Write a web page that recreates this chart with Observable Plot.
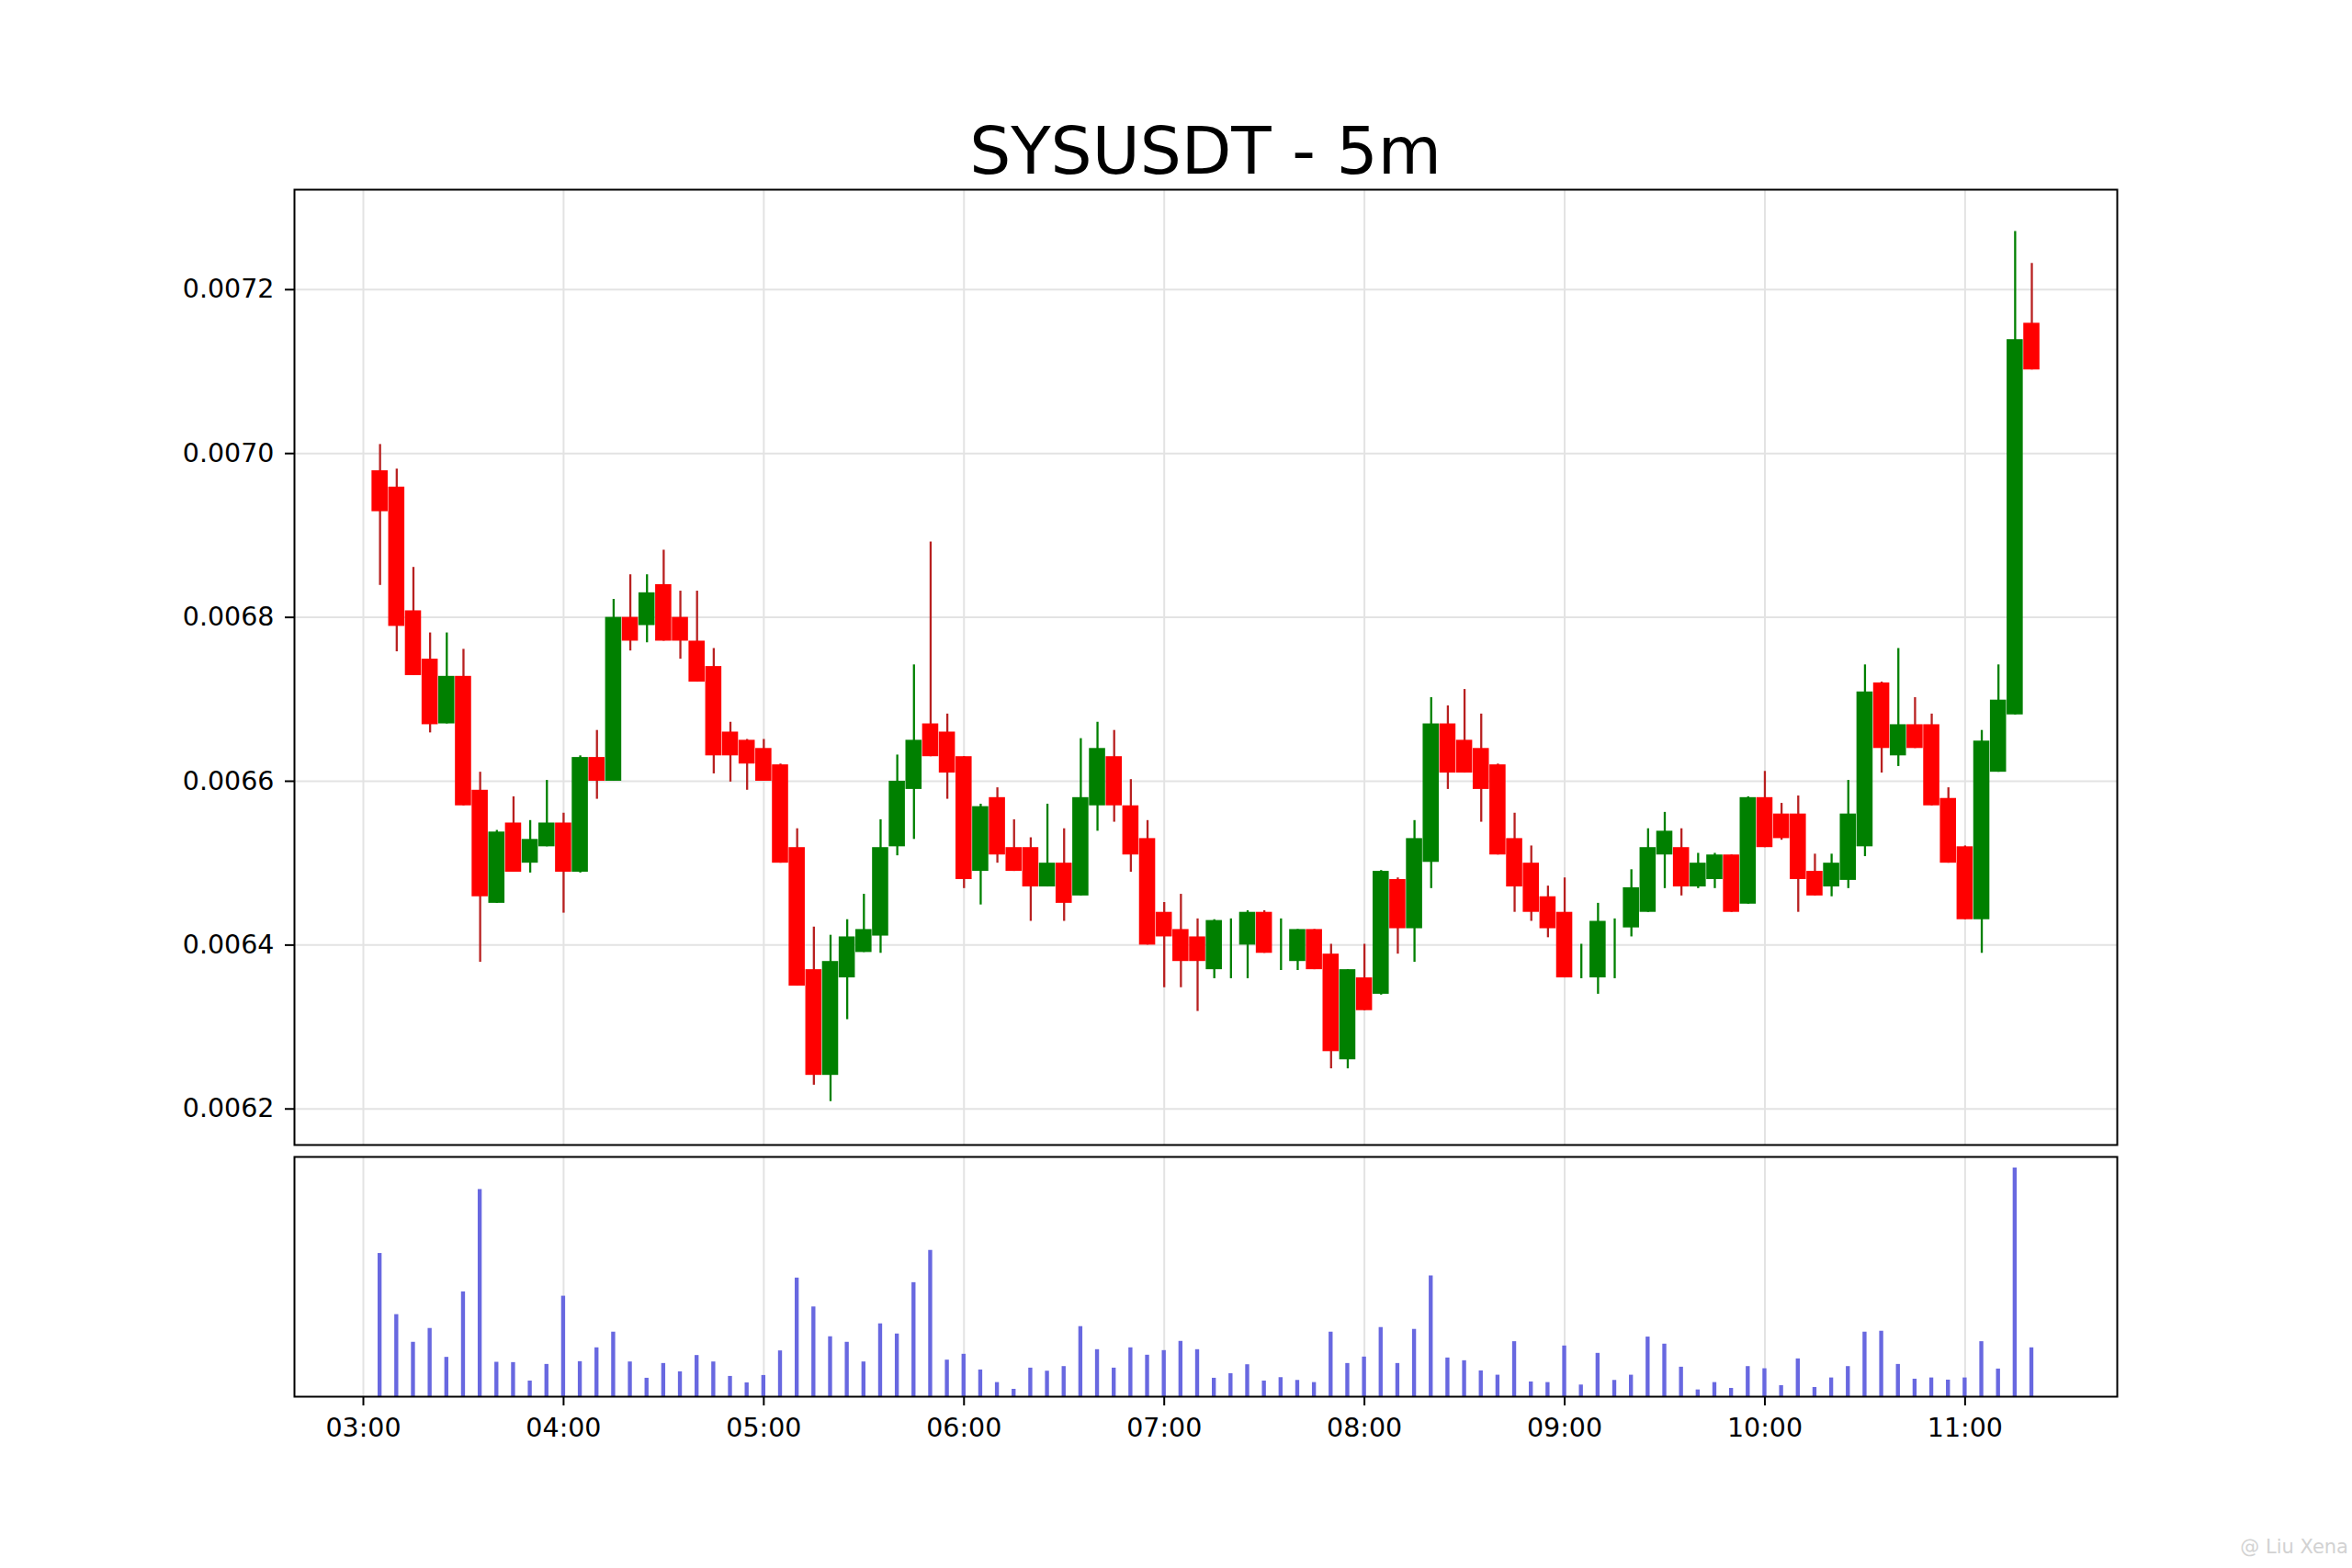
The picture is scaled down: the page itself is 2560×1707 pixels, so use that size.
<!DOCTYPE html>
<html>
<head>
<meta charset="utf-8">
<script src="https://cdn.jsdelivr.net/npm/d3@7"></script>
<script src="https://cdn.jsdelivr.net/npm/@observablehq/plot@0.6"></script>
<style>
html, body { margin: 0; padding: 0; background: #fff; }
#wrap { position: relative; width: 2560px; height: 1707px; background: #fff; overflow: hidden; font-family: "DejaVu Sans", sans-serif; }
#title { position: absolute; left: 512px; width: 1600px; top: 129px; text-align: center; font-size: 71px; line-height: 71px; color: #000; white-space: nowrap; }
#price { position: absolute; left: 0; top: 0; }
#volume { position: absolute; left: 0; top: 1250px; }
#wm { position: absolute; right: 4px; top: 1672px; font-size: 21px; color: #d2d2d2; white-space: nowrap; }
</style>
</head>
<body>
<div id="wrap">
  <div id="price"></div>
  <div id="volume"></div>
  <div id="title"></div>
  <div id="wm"></div>
</div>
<script>
const chartTitle = "SYSUSDT - 5m";
const watermark = "@ Liu Xena";

const times = [
  "03:05","03:10","03:15","03:20","03:25","03:30","03:35","03:40","03:45","03:50","03:55","04:00",
  "04:05","04:10","04:15","04:20","04:25","04:30","04:35","04:40","04:45","04:50","04:55","05:00",
  "05:05","05:10","05:15","05:20","05:25","05:30","05:35","05:40","05:45","05:50","05:55","06:00",
  "06:05","06:10","06:15","06:20","06:25","06:30","06:35","06:40","06:45","06:50","06:55","07:00",
  "07:05","07:10","07:15","07:20","07:25","07:30","07:35","07:40","07:45","07:50","07:55","08:00",
  "08:05","08:10","08:15","08:20","08:25","08:30","08:35","08:40","08:45","08:50","08:55","09:00",
  "09:05","09:10","09:15","09:20","09:25","09:30","09:35","09:40","09:45","09:50","09:55","10:00",
  "10:05","10:10","10:15","10:20","10:25","10:30","10:35","10:40","10:45","10:50","10:55","11:00",
  "11:05","11:10","11:15","11:20"
];

const open = [
  0.006979,0.006959,0.006808,0.006749,0.006670,0.006728,0.006589,0.006451,0.006549,0.006500,
  0.006520,0.006549,0.006489,0.006629,0.006600,0.006800,0.006790,0.006840,0.006800,0.006771,
  0.006740,0.006660,0.006650,0.006640,0.006620,0.006519,0.006370,0.006241,0.006360,0.006391,
  0.006411,0.006520,0.006590,0.006670,0.006660,0.006630,0.006490,0.006580,0.006519,0.006519,
  0.006471,0.006500,0.006460,0.006570,0.006630,0.006570,0.006530,0.006440,0.006419,0.006410,
  0.006370,0.006400,0.006400,0.006440,0.006400,0.006380,0.006419,0.006389,0.006260,0.006360,
  0.006340,0.006480,0.006420,0.006501,0.006670,0.006650,0.006640,0.006620,0.006530,0.006500,
  0.006459,0.006440,0.006380,0.006360,0.006400,0.006421,0.006440,0.006510,0.006519,0.006471,
  0.006480,0.006510,0.006450,0.006580,0.006560,0.006560,0.006490,0.006471,0.006479,0.006520,
  0.006720,0.006631,0.006669,0.006669,0.006579,0.006520,0.006431,0.006611,0.006681,0.007159
];
const high = [
  0.007011,0.006981,0.006861,0.006781,0.006781,0.006761,0.006611,0.006540,0.006581,0.006552,
  0.006601,0.006561,0.006631,0.006662,0.006822,0.006852,0.006852,0.006882,0.006832,0.006832,
  0.006762,0.006672,0.006651,0.006651,0.006621,0.006542,0.006422,0.006412,0.006431,0.006462,
  0.006553,0.006632,0.006742,0.006892,0.006682,0.006630,0.006572,0.006592,0.006553,0.006531,
  0.006572,0.006542,0.006652,0.006672,0.006662,0.006602,0.006552,0.006452,0.006462,0.006432,
  0.006431,0.006432,0.006442,0.006442,0.006432,0.006419,0.006419,0.006401,0.006370,0.006401,
  0.006491,0.006482,0.006552,0.006702,0.006692,0.006712,0.006682,0.006621,0.006561,0.006521,
  0.006472,0.006482,0.006401,0.006451,0.006432,0.006492,0.006542,0.006562,0.006542,0.006512,
  0.006512,0.006510,0.006581,0.006612,0.006573,0.006582,0.006511,0.006511,0.006601,0.006742,
  0.006721,0.006762,0.006702,0.006682,0.006592,0.006521,0.006662,0.006742,0.007271,0.007232
];
const low = [
  0.006839,0.006758,0.006729,0.006659,0.006670,0.006570,0.006379,0.006451,0.006489,0.006488,
  0.006520,0.006439,0.006488,0.006578,0.006600,0.006759,0.006769,0.006771,0.006749,0.006721,
  0.006609,0.006599,0.006589,0.006600,0.006500,0.006350,0.006229,0.006209,0.006309,0.006391,
  0.006390,0.006509,0.006529,0.006630,0.006578,0.006469,0.006449,0.006500,0.006490,0.006429,
  0.006471,0.006429,0.006460,0.006539,0.006550,0.006489,0.006400,0.006348,0.006348,0.006319,
  0.006359,0.006359,0.006359,0.006390,0.006369,0.006369,0.006370,0.006249,0.006249,0.006320,
  0.006339,0.006389,0.006379,0.006469,0.006590,0.006610,0.006550,0.006510,0.006440,0.006429,
  0.006409,0.006360,0.006359,0.006340,0.006359,0.006410,0.006440,0.006469,0.006460,0.006469,
  0.006469,0.006440,0.006450,0.006519,0.006528,0.006440,0.006460,0.006459,0.006469,0.006508,
  0.006610,0.006618,0.006640,0.006570,0.006500,0.006431,0.006390,0.006611,0.006681,0.007102
];
const close = [
  0.006929,0.006789,0.006729,0.006669,0.006728,0.006570,0.006459,0.006538,0.006489,0.006529,
  0.006549,0.006489,0.006629,0.006600,0.006800,0.006771,0.006830,0.006771,0.006771,0.006721,
  0.006631,0.006631,0.006621,0.006600,0.006500,0.006350,0.006241,0.006380,0.006410,0.006419,
  0.006519,0.006600,0.006650,0.006630,0.006610,0.006480,0.006569,0.006510,0.006490,0.006471,
  0.006500,0.006451,0.006580,0.006640,0.006570,0.006510,0.006400,0.006410,0.006380,0.006380,
  0.006430,0.006400,0.006440,0.006390,0.006400,0.006419,0.006370,0.006270,0.006370,0.006320,
  0.006490,0.006420,0.006530,0.006670,0.006610,0.006610,0.006590,0.006510,0.006471,0.006440,
  0.006420,0.006360,0.006380,0.006429,0.006400,0.006470,0.006519,0.006539,0.006471,0.006500,
  0.006510,0.006440,0.006580,0.006519,0.006530,0.006480,0.006460,0.006500,0.006560,0.006709,
  0.006640,0.006669,0.006640,0.006570,0.006500,0.006431,0.006649,0.006699,0.007139,0.007102
];
const volume = [
  466,267,177,222,128,341,674,112,111,51,
  105,327,114,159,210,113,60,108,81,134,
  113,66,45,69,149,386,292,195,177,113,
  237,204,371,476,119,138,87,46,24,93,
  83,98,228,153,93,159,135,150,180,153,
  60,75,104,51,62,53,46,210,108,129,
  225,108,219,393,126,117,84,70,179,48,
  46,165,38,141,53,70,194,171,96,22,
  46,27,98,91,36,123,30,61,98,210,
  213,105,57,61,54,61,179,90,744,159
];

const xTickLabels = ["03:00","04:00","05:00","06:00","07:00","08:00","09:00","10:00","11:00"];
const yTicks = [0.0062, 0.0064, 0.0066, 0.0068, 0.0070, 0.0072];

const upColor = "#008000";
const downColor = "#ff0000";
const downWick = "#b82020";
const volColor = "#6868e0";
const gridColor = "#e3e3e3";
const font = "'DejaVu Sans', sans-serif";

const MIN = 60000;
function parseTime(s) {
  const [h, m] = s.split(":").map(Number);
  return new Date(Date.UTC(2023, 0, 1, h, m));
}

const candles = times.map((s, i) => ({
  t: parseTime(s),
  open: open[i], high: high[i], low: low[i], close: close[i],
  volume: volume[i],
  up: close[i] >= open[i]
}));

const xTickDates = xTickLabels.map(parseTime);
const labelOf = new Map(xTickDates.map((d, i) => [+d, xTickLabels[i]]));
const t0 = +xTickDates[0];
const xDomain = [new Date(t0 - 20.65 * MIN), new Date(t0 + 525.6 * MIN)];
const bodyHalf = 2.42 * MIN;
const volHalf = 0.6 * MIN;

document.getElementById("title").textContent = chartTitle;
document.getElementById("wm").textContent = watermark;

const priceChart = Plot.plot({
  width: 2560,
  height: 1250,
  marginTop: 206,
  marginBottom: 4,
  marginLeft: 320,
  marginRight: 256,
  style: { background: "transparent", fontFamily: font, fontSize: "28.5px", color: "#000", overflow: "visible" },
  x: { type: "utc", domain: xDomain, axis: null },
  y: { domain: [0.006156, 0.007322] },
  marks: [
    Plot.gridX(xTickDates, { stroke: gridColor, strokeOpacity: 1, strokeWidth: 2 }),
    Plot.gridY(yTicks, { stroke: gridColor, strokeOpacity: 1, strokeWidth: 2 }),
    Plot.ruleX(candles, {
      x: "t", y1: "low", y2: "high",
      stroke: d => d.up ? upColor : downWick,
      strokeWidth: 2.3
    }),
    Plot.rect(candles, {
      x1: d => new Date(+d.t - bodyHalf),
      x2: d => new Date(+d.t + bodyHalf),
      y1: "open", y2: "close",
      fill: d => d.up ? upColor : downColor
    }),
    Plot.frame({ stroke: "#000", strokeWidth: 2 }),
    Plot.axisY(yTicks, {
      tickSize: 10, tickPadding: 12, strokeWidth: 2,
      tickFormat: d => d.toFixed(4), fontSize: 28.5, label: null
    })
  ]
});
document.getElementById("price").appendChild(priceChart);

const volumeChart = Plot.plot({
  width: 2560,
  height: 457,
  marginTop: 9,
  marginBottom: 187,
  marginLeft: 320,
  marginRight: 256,
  style: { background: "transparent", fontFamily: font, fontSize: "28.5px", color: "#000", overflow: "visible" },
  x: { type: "utc", domain: xDomain },
  y: { domain: [0, 780], axis: null },
  marks: [
    Plot.gridX(xTickDates, { stroke: gridColor, strokeOpacity: 1, strokeWidth: 2 }),
    Plot.rect(candles, {
      x1: d => new Date(+d.t - volHalf),
      x2: d => new Date(+d.t + volHalf),
      y1: d => 0, y2: "volume",
      fill: volColor
    }),
    Plot.frame({ stroke: "#000", strokeWidth: 2 }),
    Plot.axisX(xTickDates, {
      tickSize: 10, tickPadding: 13, strokeWidth: 2,
      tickFormat: d => labelOf.get(+d), fontSize: 28.5, label: null
    })
  ]
});
document.getElementById("volume").appendChild(volumeChart);
</script>
</body>
</html>
